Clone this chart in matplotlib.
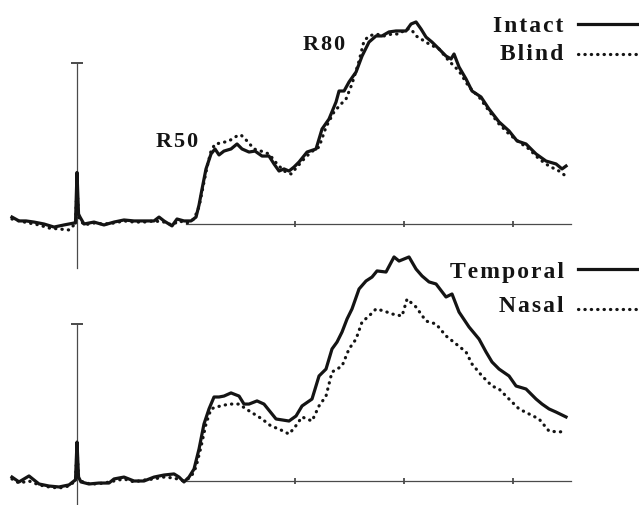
import matplotlib
matplotlib.use("Agg")
import matplotlib.pyplot as plt

# ---------------- data (time in ms, amplitude in arbitrary units) ----------------
t_intact = [-11.93, -10.64, -9.36, -7.89, -6.06, -4.22, -2.39, -0.55, -0.28, 0.0, 0.28, 0.55, 1.28, 3.12,
            4.95, 6.79, 8.62, 10.46, 12.29, 14.13, 15.05, 15.96, 17.43, 18.35, 19.63, 20.92, 21.84, 22.39,
            22.94, 23.67, 24.59, 25.32, 26.06, 26.97, 28.26, 29.36, 30.28, 31.56, 32.66, 33.95, 35.23, 36.15,
            37.07, 37.99, 38.90, 39.82, 40.74, 42.21, 43.86, 44.96, 46.24, 47.53, 48.08, 49.00, 49.91, 51.20,
            52.30, 53.58, 54.87, 55.97, 57.25, 58.54, 60.37, 61.29, 62.21, 63.13, 64.04, 65.14, 66.43, 67.71,
            68.63, 69.18, 70.10, 71.38, 72.48, 74.13, 75.60, 77.44, 79.27, 80.74, 82.39, 84.23, 86.06, 87.90,
            89.00, 89.73]
v_intact = [0.43, 0.19, 0.19, 0.12, 0.00, -0.19, -0.06, 0.06, 0.06, 3.20, 0.62, 0.43, 0.00, 0.12,
            -0.06, 0.12, 0.25, 0.19, 0.19, 0.19, 0.43, 0.19, -0.12, 0.31, 0.19, 0.19, 0.43, 1.18,
            2.17, 3.42, 4.35, 4.66, 4.29, 4.53, 4.66, 4.97, 4.66, 4.47, 4.53, 4.22, 4.22, 3.73,
            3.29, 3.42, 3.29, 3.54, 3.85, 4.47, 4.66, 5.90, 6.52, 7.58, 8.26, 8.26, 8.82, 9.44,
            10.43, 11.30, 11.68, 11.68, 11.93, 11.99, 11.99, 12.42, 12.55, 12.11, 11.61, 11.30, 10.87, 10.43,
            10.25, 10.56, 9.75, 9.01, 8.26, 7.89, 7.14, 6.34, 5.78, 5.16, 4.97, 4.35, 3.91, 3.73,
            3.42, 3.60]

t_blind = [-11.93, -10.64, -8.81, -6.97, -5.14, -3.30, -1.47, -0.55, -0.28, 0.0, 0.28, 1.28, 3.12, 4.95,
           6.79, 8.62, 10.46, 12.29, 14.13, 15.96, 17.43, 18.72, 20.19, 21.47, 22.39, 23.12, 23.86, 24.59,
           25.32, 26.42, 27.89, 29.36, 30.09, 31.20, 32.48, 33.76, 35.23, 36.70, 37.99, 39.27, 40.37, 41.65,
           42.94, 44.41, 45.69, 47.16, 48.44, 49.36, 50.46, 51.75, 52.66, 53.58, 54.87, 56.33, 57.80, 59.09,
           60.37, 61.29, 62.21, 63.13, 64.59, 66.43, 68.26, 70.10, 71.93, 73.77, 75.60, 77.44, 79.27, 81.11,
           82.94, 84.78, 86.61, 88.45, 89.92]
v_blind = [0.31, 0.19, 0.06, -0.06, -0.25, -0.31, -0.37, -0.06, 0.00, 2.48, 0.43, -0.06, 0.06, 0.00,
           0.06, 0.19, 0.12, 0.12, 0.19, 0.12, -0.06, 0.19, 0.06, 0.31, 1.06, 2.30, 3.54, 4.53,
           4.97, 5.03, 5.16, 5.47, 5.53, 5.16, 4.66, 4.53, 4.35, 3.73, 3.29, 3.11, 3.54, 4.04,
           4.47, 4.78, 6.02, 6.96, 7.45, 7.76, 8.70, 10.12, 11.37, 11.68, 11.80, 11.68, 11.80, 11.80,
           12.11, 12.11, 11.68, 11.49, 11.18, 10.87, 10.12, 9.50, 8.51, 7.89, 7.02, 6.21, 5.59, 5.09,
           4.66, 4.04, 3.60, 3.29, 2.92]

t_temporal = [-11.93, -10.64, -8.81, -6.97, -5.14, -3.30, -1.47, -0.55, -0.28, 0.0, 0.28, 0.73, 2.20, 4.04,
              5.87, 6.79, 8.62, 10.46, 12.29, 14.13, 15.96, 17.80, 18.72, 19.63, 20.55, 21.47, 22.39, 23.30,
              24.22, 25.14, 26.06, 26.97, 28.26, 29.73, 30.64, 31.56, 33.03, 34.31, 36.52, 38.90, 40.19, 41.29,
              43.12, 44.41, 45.69, 46.79, 47.71, 48.63, 49.55, 50.46, 51.75, 53.03, 54.13, 55.05, 56.70, 58.17,
              59.09, 60.92, 62.21, 63.31, 64.59, 65.88, 67.71, 68.81, 70.10, 71.93, 73.77, 75.05, 76.15, 77.44,
              79.27, 80.56, 82.39, 84.23, 85.33, 86.61, 87.90, 89.73]
v_temporal = [0.25, -0.06, 0.32, -0.19, -0.32, -0.38, -0.25, 0.00, 0.06, 2.48, 0.25, -0.06, -0.19, -0.13,
              -0.13, 0.13, 0.25, 0.00, 0.00, 0.25, 0.38, 0.45, 0.25, -0.06, 0.25, 0.76, 2.04, 3.63,
              4.59, 5.35, 5.35, 5.41, 5.61, 5.41, 4.90, 4.90, 5.10, 4.90, 3.95, 3.82, 4.14, 4.78,
              5.22, 6.69, 7.13, 8.41, 8.85, 9.49, 10.32, 10.96, 12.23, 12.74, 12.99, 13.38, 13.31, 14.27,
              14.01, 14.27, 13.50, 13.06, 12.68, 12.55, 11.72, 11.91, 10.76, 9.81, 9.04, 8.22, 7.58, 7.13,
              6.69, 6.05, 5.86, 5.22, 4.90, 4.59, 4.39, 4.08]

t_nasal = [-11.93, -10.64, -8.81, -6.97, -5.14, -3.30, -1.47, -0.55, -0.28, 0.0, 0.28, 1.28, 3.12, 4.95,
           6.79, 8.62, 10.46, 12.29, 14.13, 15.96, 17.80, 19.63, 20.92, 21.84, 22.75, 23.67, 24.59, 25.51,
           27.89, 29.73, 31.01, 32.48, 33.95, 35.60, 37.07, 38.90, 40.00, 41.29, 43.12, 44.41, 45.69, 46.79,
           48.63, 49.91, 51.20, 52.30, 53.58, 54.87, 56.33, 57.80, 59.64, 60.56, 62.21, 64.04, 65.88, 67.71,
           69.55, 71.38, 72.48, 74.32, 76.15, 77.44, 79.27, 81.11, 82.94, 84.78, 86.61, 88.45, 89.73]
v_nasal = [0.13, -0.13, 0.00, -0.25, -0.38, -0.45, -0.32, -0.06, 0.00, 2.04, 0.19, -0.13, -0.19, -0.13,
           0.00, 0.13, -0.06, 0.06, 0.13, 0.25, 0.19, 0.00, 0.25, 0.89, 2.17, 3.63, 4.59, 4.71,
           4.90, 4.90, 4.59, 4.27, 3.95, 3.50, 3.31, 2.99, 3.44, 4.08, 3.82, 4.78, 5.41, 6.94,
           7.32, 8.41, 9.04, 10.13, 10.51, 10.96, 10.83, 10.64, 10.51, 11.59, 11.08, 10.19, 10.00, 9.24,
           8.73, 8.22, 7.45, 6.69, 6.05, 5.86, 5.22, 4.59, 4.27, 3.95, 3.18, 3.12, 3.18]

x_ticks = [20, 40, 60, 80]
top_labels = ["Intact", "Blind"]
bottom_labels = ["Temporal", "Nasal"]

# ---------------- styling ----------------
FAM = ["Liberation Serif", "DejaVu Serif"]
INK = "#141414"
AX = "#4a4a4a"
DOT = (0, (0.1, 1.9))


def spaced(s):
    return "\u200a".join(s)


fig = plt.figure(figsize=(6.39, 5.06), dpi=100)
fig.patch.set_facecolor("white")

ax1 = fig.add_axes([0, 1 - 285 / 506, 1, 285 / 506])
ax2 = fig.add_axes([0, 0, 1, 266 / 506])
for ax in (ax1, ax2):
    ax.set_xlim(-14.13, 103.12)
    ax.axis("off")
    ax.patch.set_alpha(0)
ax1.set_ylim(-3.727, 13.975)
ax2.set_ylim(-1.529, 15.414)


def frame(ax, ybottom):
    ax.plot([0, 0], [ybottom, 10], color=AX, lw=0.9, zorder=1, clip_on=False)
    ax.plot([0], [10], marker="_", ms=8, mew=1.4, color=AX, zorder=1)
    ax.plot([20, 90.6], [0, 0], color=AX, lw=0.9, zorder=1)
    ax.plot(x_ticks[1:], [0] * 3, ls="none", marker="|", ms=5, mew=1.3, color=AX, zorder=1)


frame(ax1, -2.73)
frame(ax2, -1.6)

lw = 2.3
ax1.plot(t_intact, v_intact, color=INK, lw=lw, solid_joinstyle="round", zorder=3)
ax1.plot(t_blind, v_blind, color=INK, lw=lw, ls=DOT, dash_capstyle="round", zorder=2)
ax2.plot(t_temporal, v_temporal, color=INK, lw=lw, solid_joinstyle="round", zorder=3)
ax2.plot(t_nasal, v_nasal, color=INK, lw=lw, ls=DOT, dash_capstyle="round", zorder=2)

tk = dict(family=FAM, fontweight="bold", color=INK, va="baseline")
ax1.text(18.35, 4.84, spaced("R50"), ha="center", fontsize=16, **tk)
ax1.text(45.3, 10.87, spaced("R80"), ha="center", fontsize=16, **tk)

# legends (label on the left, sample on the right)
ax1.text(89.3, 11.99, spaced(top_labels[0]), ha="right", fontsize=17, **tk)
ax1.text(89.3, 10.25, spaced(top_labels[1]), ha="right", fontsize=17, **tk)
ax1.plot([91.9, 103.0], [12.42, 12.42], color=INK, lw=lw, clip_on=False)
ax1.plot([91.9, 103.0], [10.56, 10.56], color=INK, lw=lw, ls=DOT, dash_capstyle="round", clip_on=False)

ax2.text(89.3, 12.99, spaced(bottom_labels[0]), ha="right", fontsize=17, **tk)
ax2.text(89.3, 10.83, spaced(bottom_labels[1]), ha="right", fontsize=17, **tk)
ax2.plot([91.9, 103.0], [13.50, 13.50], color=INK, lw=lw, clip_on=False)
ax2.plot([91.9, 103.0], [10.96, 10.96], color=INK, lw=lw, ls=DOT, dash_capstyle="round", clip_on=False)

fig.savefig("out.png", dpi=100, facecolor="white")
